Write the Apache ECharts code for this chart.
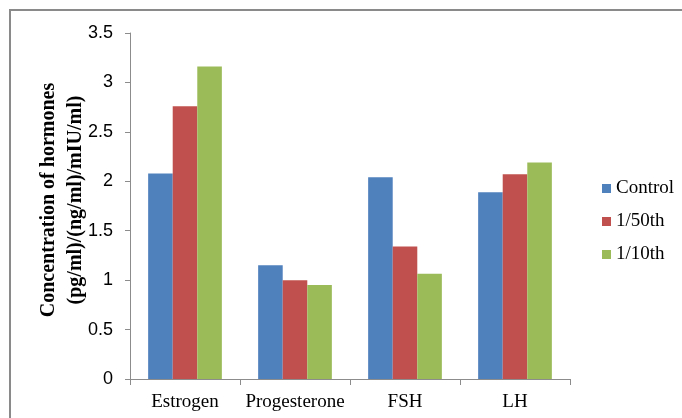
<!DOCTYPE html>
<html>
<head>
<meta charset="utf-8">
<script src="https://cdn.jsdelivr.net/npm/echarts@6/dist/echarts.min.js"></script>
<style>
  html, body { margin: 0; padding: 0; background: #fff; }
  #chart { width: 682px; height: 418px; }
</style>
</head>
<body>
<div id="chart"></div>
<script>
// Hormone concentrations per treatment group
const categories = ['Estrogen', 'Progesterone', 'FSH', 'LH'];
const controlValues = [2.08, 1.15, 2.04, 1.89];
const fiftiethValues = [2.76, 1.00, 1.34, 2.07];
const tenthValues = [3.16, 0.95, 1.065, 2.19];
const seriesNames = ['Control', '1/50th', '1/10th'];
const yTitleLines = ['Concentration of hormones', '(pg/ml)/(ng/ml)/mIU/ml)'];

const colors = ['#4F81BD', '#C0504D', '#9BBB59'];
const axisGray = '#8c8c8c';

const chart = echarts.init(document.getElementById('chart'), null, { renderer: 'canvas' });

function barSeries(name, data, color) {
  return {
    name: name,
    type: 'bar',
    data: data,
    barGap: '0%',
    barCategoryGap: '33%',
    itemStyle: { color: color },
    emphasis: { disabled: true }
  };
}

chart.setOption({
  animation: false,
  backgroundColor: '#fff',
  grid: { left: 130, right: 112, top: 33, bottom: 39 },
  legend: {
    orient: 'vertical',
    left: 597,
    top: 174,
    icon: 'rect',
    itemWidth: 9,
    itemHeight: 9,
    itemGap: 14,
    textStyle: { fontFamily: 'Liberation Serif', fontSize: 19, color: '#000' },
    data: seriesNames
  },
  xAxis: {
    type: 'category',
    data: categories,
    axisLine: { lineStyle: { color: axisGray, width: 1 } },
    axisTick: { show: true, length: 6, inside: false, lineStyle: { color: axisGray } },
    axisLabel: { interval: 0, fontFamily: 'Liberation Serif', fontSize: 19, color: '#000', margin: 14 }
  },
  yAxis: {
    type: 'value',
    min: 0,
    max: 3.5,
    interval: 0.5,
    splitLine: { show: false },
    axisLine: { show: true, lineStyle: { color: axisGray, width: 1 } },
    axisTick: { show: true, length: 5, lineStyle: { color: axisGray } },
    axisLabel: { fontFamily: 'Liberation Sans', fontSize: 18, color: '#000', margin: 17 }
  },
  graphic: [
    {
      type: 'rect',
      shape: { x: 10, y: 10, width: 700, height: 440 },
      style: { fill: 'none', stroke: '#8a8a8a', lineWidth: 2 },
      silent: true
    },
    {
      type: 'text',
      x: 62,
      y: 200,
      rotation: Math.PI / 2,
      style: {
        text: yTitleLines.join('\n'),
        fontFamily: 'Liberation Serif',
        fontWeight: 'bold',
        fontSize: 20,
        lineHeight: 27,
        fill: '#000',
        align: 'center',
        verticalAlign: 'middle'
      },
      silent: true
    }
  ],
  series: [
    barSeries(seriesNames[0], controlValues, colors[0]),
    barSeries(seriesNames[1], fiftiethValues, colors[1]),
    barSeries(seriesNames[2], tenthValues, colors[2])
  ]
});
</script>
</body>
</html>
